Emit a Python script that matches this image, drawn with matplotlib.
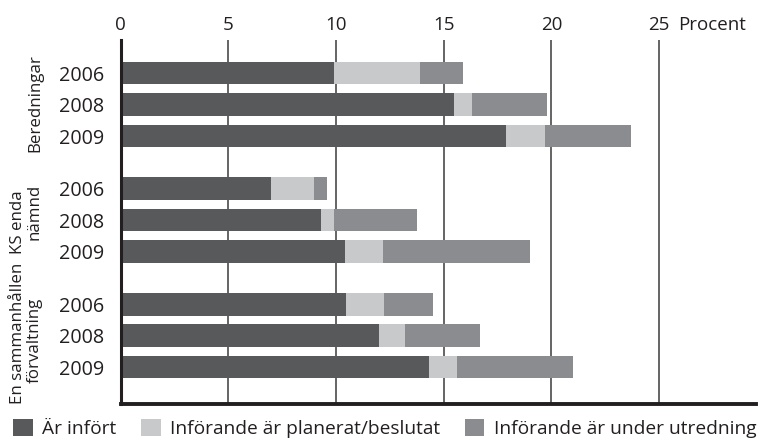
import matplotlib
matplotlib.use("Agg")
import matplotlib.pyplot as plt
import numpy as np

groups = ["Beredningar", "KS enda\nnämnd", "En sammanhållen\nförvaltning"]
years = ["2006", "2008", "2009"]
series_names = ["Är infört", "Införande är planerat/beslutat", "Införande är under utredning"]
infort = [9.9, 15.5, 17.9, 7.0, 9.3, 10.4, 10.45, 12.0, 14.3]
planerat = [4.0, 0.8, 1.8, 2.0, 0.6, 1.8, 1.8, 1.2, 1.3]
utredning = [2.0, 3.5, 4.0, 0.6, 3.85, 6.8, 2.25, 3.5, 5.4]
xticks = [0, 5, 10, 15, 20, 25]
colors = ["#58595b", "#c8c9cb", "#8b8c90"]

plt.rcParams['font.family'] = ['Open Sans', 'DejaVu Sans']

fig = plt.figure(figsize=(7.59, 4.46), dpi=100)
ax = fig.add_axes([0.1588, 0.0942, 0.996 - 0.1588, 0.9103 - 0.0942])

gap = 0.67
pos = []
for gi in range(len(groups)):
    for yi in range(len(years)):
        pos.append(gi * (len(years) + gap) + yi)
pos = np.array(pos)

left = np.zeros(len(pos))
for vals, c, name in zip([infort, planerat, utredning], colors, series_names):
    ax.barh(pos, vals, left=left, height=0.72, color=c, label=name, zorder=2)
    left = left + np.array(vals)

ax.set_xlim(0, 29.5)
ax.set_ylim(pos[-1] + 1.17, -1.05)
ax.set_xticks(xticks)
ax.set_xticklabels([str(t) for t in xticks])
ax.xaxis.tick_top()
ax.tick_params(axis='x', length=0, pad=4, labelsize=13.5, colors='#231f20')
ax.grid(axis='x', color='#3a3a3a', linewidth=1.1, zorder=0)
ax.set_axisbelow(True)

ax.set_yticks(pos)
ax.set_yticklabels(years * len(groups))
ax.tick_params(axis='y', length=0, pad=12, labelsize=14.2, colors='#231f20')

for s in ['top', 'right']:
    ax.spines[s].set_visible(False)
ax.spines['left'].set_linewidth(2.2)
ax.spines['bottom'].set_linewidth(2.8)
ax.spines['left'].set_color('#231f20')
ax.spines['bottom'].set_color('#231f20')

ax.text(25.9, 1.0 + 4 / 72 * 100 / (ax.get_position().height * 446), "Procent",
        transform=ax.get_xaxis_transform(), ha='left', va='bottom',
        fontsize=13.5, color='#231f20')

# group labels: each line placed separately (x in axes fraction, y offset from group centre)
label_layout = [
    [(-0.1333, -0.06)],
    [(-0.1618, 0.06), (-0.1349, -0.26)],
    [(-0.1618, -0.06), (-0.1349, 0.15)],
]
for gi, g in enumerate(groups):
    center = gi * (len(years) + gap) + 1
    for line, (xa, dy) in zip(g.split("\n"), label_layout[gi]):
        ax.text(xa, center + dy, line, transform=ax.get_yaxis_transform(),
                rotation=90, ha='center', va='center',
                fontsize=12.2, color='#231f20')

leg = fig.legend(loc='lower left', bbox_to_anchor=(-0.005, -0.02), ncol=3, frameon=False,
                 fontsize=13.8, handlelength=1.0, handleheight=1.0, handletextpad=0.5,
                 columnspacing=1.3, labelcolor='#231f20')

fig.savefig("out.png", dpi=100)
